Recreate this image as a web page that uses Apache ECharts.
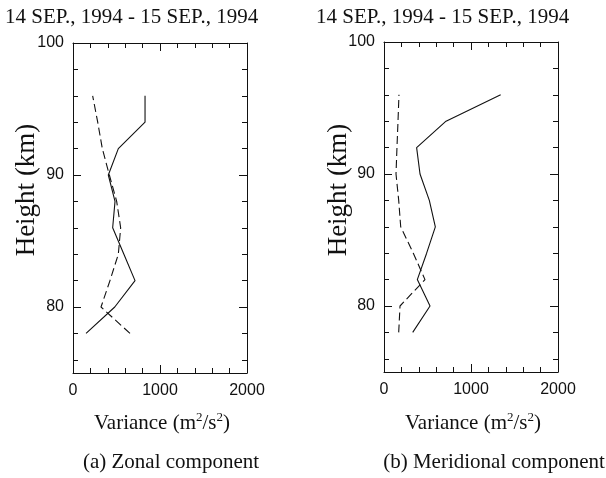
<!DOCTYPE html>
<html>
<head>
<meta charset="utf-8">
<script src="https://cdn.jsdelivr.net/npm/echarts@6/dist/echarts.min.js"></script>
<style>
  html, body { margin: 0; padding: 0; background: #fff; }
  #chart { width: 606px; height: 478px; }
</style>
</head>
<body>
<div id="chart"></div>
<script>
// Heights of the sampling levels (km)
const heights = [78, 80, 82, 84, 86, 88, 90, 92, 94, 96];

// (a) Zonal component variance (m^2/s^2)
const zonalSolid  = [150, 480, 713, 585, 456, 483, 406, 521, 828, 828];
const zonalDashed = [655, 322, 425, 521, 548, 502, 418, 337, 284, 226];

// (b) Meridional component variance (m^2/s^2)
const meridSolid  = [330, 529, 383, 490, 590, 521, 414, 375, 713, 1341];
const meridDashed = [169, 184, 471, 337, 192, 169, 138, 149, 161, 172];

// Axis ticks
const yLabels = [80, 90, 100];
const yMinor = [76, 78, 82, 84, 86, 88, 92, 94, 96, 98];

const dateText = '14 SEP., 1994 - 15 SEP., 1994';
const xName = 'Variance (m{sup|2}/s{sup|2})';
const yName = 'Height (km)';
const captions = ['(a) Zonal component', '(b) Meridional component'];

const SERIF = '"Liberation Serif", "Times New Roman", serif';
const SANS = '"Liberation Sans", Arial, sans-serif';
const INK = '#111';

const grids = [
  { left: 73, right: 359, top: 43, height: 330, outerBoundsMode: 'none' },
  { left: 384, right: 48, top: 42, height: 330, outerBoundsMode: 'none' }
];

const xAxes = [];
const yAxes = [];

grids.forEach((g, i) => {
  ['bottom', 'top'].forEach(pos => {
    xAxes.push({
      type: 'value', gridIndex: i, position: pos,
      min: 0, max: 2000, interval: 1000,
      axisLine: { show: true, lineStyle: { color: INK, width: 1 } },
      axisTick: { show: true, inside: true, length: 8, lineStyle: { color: INK } },
      minorTick: { show: true, splitNumber: 5, length: 5, lineStyle: { color: INK } },
      axisLabel: {
        show: pos === 'bottom', margin: 10, color: INK,
        fontFamily: SANS, fontSize: 16,
        formatter: v => String(v)
      },
      splitLine: { show: false }, minorSplitLine: { show: false }
    });
  });
  ['left', 'right'].forEach(pos => {
    yAxes.push({
      type: 'value', gridIndex: i, position: pos,
      min: 75, max: 100,
      axisLine: { show: true, lineStyle: { color: INK, width: 1 } },
      axisTick: { show: true, inside: true, length: 8, customValues: yLabels, lineStyle: { color: INK } },
      axisLabel: {
        show: pos === 'left', customValues: yLabels, margin: 9, color: INK,
        fontFamily: SANS, fontSize: 16,
        formatter: v => String(v)
      },
      splitLine: { show: false }
    });
    yAxes.push({
      type: 'value', gridIndex: i, position: pos,
      min: 75, max: 100,
      axisLine: { show: false },
      axisTick: { show: true, inside: true, length: 5, customValues: yMinor, lineStyle: { color: INK } },
      axisLabel: { show: false },
      splitLine: { show: false }
    });
  });
});

function pairs(values) {
  return values.map((v, k) => [v, heights[k]]);
}

function lineSeries(values, xi, yi, dashed) {
  return {
    type: 'line', xAxisIndex: xi, yAxisIndex: yi,
    data: pairs(values), showSymbol: false, symbol: 'none',
    silent: true, animation: false,
    lineStyle: { color: '#111', width: 1.1, type: dashed ? [8, 4] : 'solid' }
  };
}

const series = [
  lineSeries(zonalSolid, 0, 0, false),
  lineSeries(zonalDashed, 0, 0, true),
  lineSeries(meridSolid, 2, 4, false),
  lineSeries(meridDashed, 2, 4, true)
];

function text(x, y, str, size, opts) {
  return Object.assign({
    type: 'text', x: x, y: y, silent: true,
    style: Object.assign({
      text: str, fill: INK, font: size + 'px ' + SERIF,
      textAlign: 'center', textVerticalAlign: 'middle'
    }, (opts && opts.style) || {})
  }, (opts && opts.el) || {});
}

// Axis title with raised exponents
const supRich = {
  rich: {
    sup: {
      fontFamily: SERIF, fontSize: 13, fill: INK,
      verticalAlign: 'top', lineHeight: 23
    }
  },
  fontFamily: SERIF, fontSize: 21, lineHeight: 23
};

const graphic = [
  text(5, 17, dateText, 21, { style: { textAlign: 'left' } }),
  text(316, 17, dateText, 21, { style: { textAlign: 'left' } }),
  text(27, 190, yName, 27, { el: { rotation: Math.PI / 2 } }),
  text(339, 190, yName, 27, { el: { rotation: Math.PI / 2 } }),
  text(162, 423, xName, 21, { style: supRich }),
  text(473, 423, xName, 21, { style: supRich }),
  text(171, 462, captions[0], 21),
  text(494, 462, captions[1], 21)
];

const chart = echarts.init(document.getElementById('chart'), null, { renderer: 'canvas' });
chart.setOption({
  backgroundColor: '#fff',
  animation: false,
  grid: grids,
  xAxis: xAxes,
  yAxis: yAxes,
  series: series,
  graphic: graphic
});
</script>
</body>
</html>
